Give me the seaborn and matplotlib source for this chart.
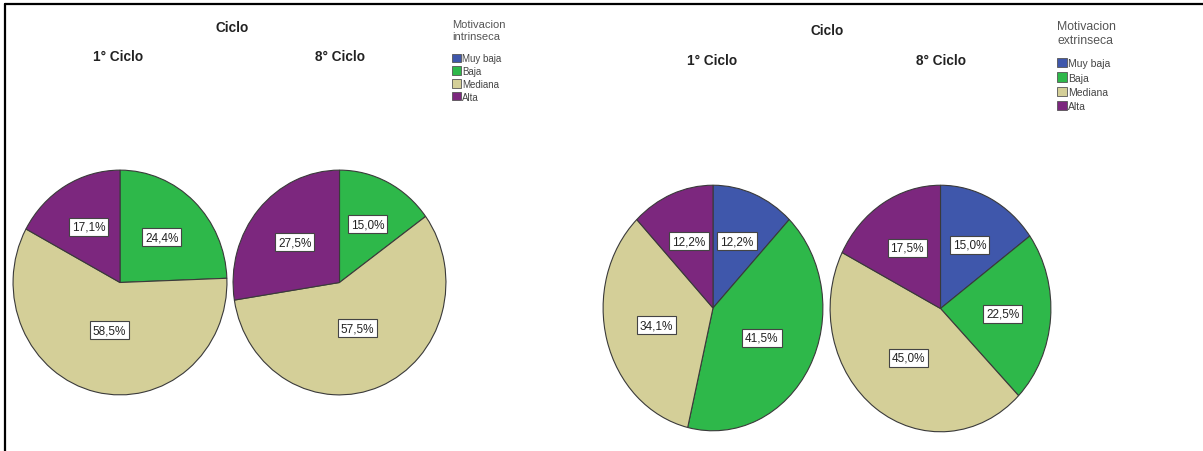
import matplotlib
matplotlib.use("Agg")
import matplotlib.pyplot as plt
from matplotlib.patches import Patch
from matplotlib.lines import Line2D
import seaborn as sns
import pandas as pd
import numpy as np

sns.set_theme(style="white")
plt.rcParams['font.family'] = ['Liberation Sans', 'DejaVu Sans']

categories = ["Muy baja", "Baja", "Mediana", "Alta"]
ciclos = ["1° Ciclo", "8° Ciclo"]
intrinseca_1 = [0.0, 24.4, 58.5, 17.1]
intrinseca_8 = [0.0, 15.0, 57.5, 27.5]
extrinseca_1 = [12.2, 41.5, 34.1, 12.2]
extrinseca_8 = [15.0, 22.5, 45.0, 17.5]
colors = sns.color_palette(["#3f57ab", "#2eb84a", "#d4cf98", "#7c277e"])

W, H = 1203, 452
fig = plt.figure(figsize=(W / 100, H / 100), dpi=100)
fig.patch.set_facecolor("white")


def px_axes(x0, y0, x1, y1):
    return fig.add_axes([x0 / W, 1 - y1 / H, (x1 - x0) / W, (y1 - y0) / H])


def draw_pie(ax, values):
    df = pd.DataFrame({"cat": categories, "val": values})
    df = df[df["val"] > 0]
    cols = [colors[categories.index(c)] for c in df["cat"]]
    wedges, texts, autotexts = ax.pie(
        df["val"], colors=cols, startangle=90, counterclock=False,
        autopct=lambda p: f"{p:.1f}%".replace(".", ","), pctdistance=0.52,
        wedgeprops=dict(edgecolor="#3a3a3a", linewidth=0.8),
        textprops=dict(fontsize=8.5, color="#222222"))
    for w, t in zip(wedges, autotexts):
        alpha = np.deg2rad(abs(w.theta2 - w.theta1))
        centroid = 4 * np.sin(alpha / 2) / (3 * alpha)
        d = 0.5 * centroid + 0.5 * 0.52
        mid = np.deg2rad((w.theta1 + w.theta2) / 2)
        t.set_position((d * np.cos(mid), d * np.sin(mid)))
        t.set_bbox(dict(boxstyle="square,pad=0.25", facecolor="white",
                        edgecolor="#444444", linewidth=0.8))
    ax.set_aspect("auto")
    ax.set_xlim(-1.01, 1.01)
    ax.set_ylim(-1.01, 1.01)


panels = [
    (intrinseca_1, (12, 170, 228, 397)),
    (intrinseca_8, (232, 170, 447, 397)),
    (extrinseca_1, (602, 185, 824, 433)),
    (extrinseca_8, (829, 185, 1052, 434)),
]
for vals, box in panels:
    ax = px_axes(*box)
    draw_pie(ax, vals)

tkw = dict(ha="center", va="center", fontsize=9.8, fontweight="bold",
           color="#222222")
fig.text(232 / W, 1 - 28 / H, "Ciclo", **tkw)
fig.text(118 / W, 1 - 57 / H, ciclos[0], **tkw)
fig.text(340 / W, 1 - 57 / H, ciclos[1], **tkw)
fig.text(827 / W, 1 - 31 / H, "Ciclo", **tkw)
fig.text(712 / W, 1 - 61 / H, ciclos[0], **tkw)
fig.text(941 / W, 1 - 61 / H, ciclos[1], **tkw)

handles = [Patch(facecolor=colors[i], edgecolor="#555555", linewidth=0.6,
                 label=categories[i]) for i in range(4)]


def add_legend(x, y, title, fs, tfs, hsize, ls, sep):
    leg = fig.legend(handles=handles, loc="upper left",
                     bbox_to_anchor=(x / W, 1 - y / H), frameon=False,
                     title=title, alignment="left", fontsize=fs,
                     title_fontsize=tfs, handlelength=hsize,
                     handleheight=hsize, handletextpad=0.1, labelspacing=ls,
                     borderpad=0, borderaxespad=0)
    for t in leg.get_texts():
        t.set_color("#444444")
    leg.get_title().set_color("#555555")
    leg._legend_box.sep = sep
    return leg


add_legend(452, 20, "Motivacion\nintrinseca", 7, 8, 0.93, 0.29, 9)
add_legend(1057, 21, "Motivacion\nextrinseca", 7.5, 8.8, 0.96, 0.39, 9)

fig.add_artist(Line2D([5 / W, 1.0], [1 - 5 / H, 1 - 5 / H],
                      transform=fig.transFigure, color="black", linewidth=1.6))
fig.add_artist(Line2D([5 / W, 5 / W], [1 - 5 / H, 0],
                      transform=fig.transFigure, color="black", linewidth=1.6))

fig.savefig("out.png", dpi=100, facecolor="white")
